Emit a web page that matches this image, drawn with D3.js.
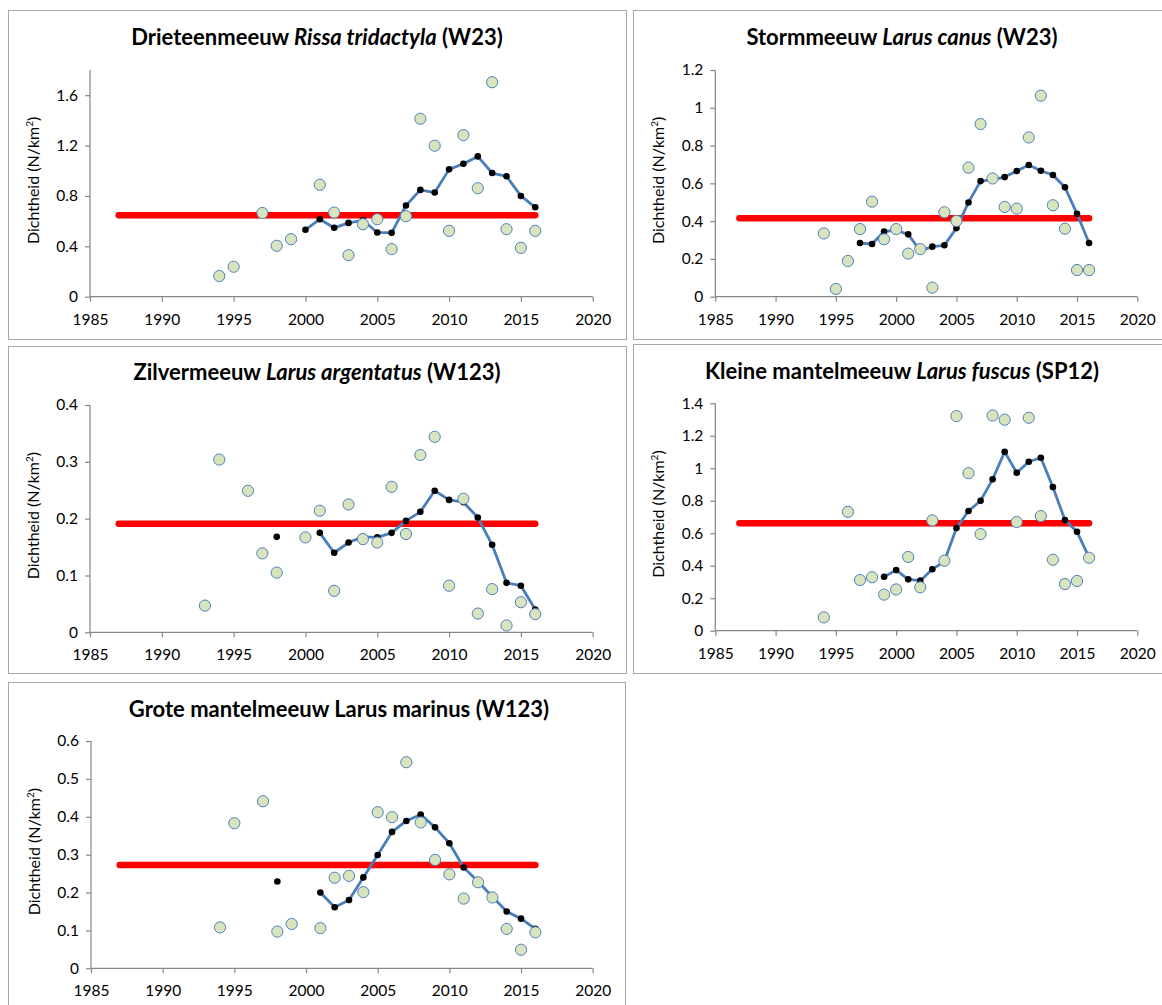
<!DOCTYPE html>
<html>
<head>
<meta charset="utf-8">
<script src="https://cdn.jsdelivr.net/npm/d3@7"></script>
<style>
  html, body { margin: 0; padding: 0; background: #ffffff; }
  svg { display: block; }
  text { font-family: Lato, "Open Sans", "DejaVu Sans", sans-serif; fill: #000; }
</style>
</head>
<body>
<svg id="chart" width="1162" height="1005"></svg>
<script>
// ---------- DATA ----------
const years = [1993,1994,1995,1996,1997,1998,1999,2000,2001,2002,2003,2004,2005,2006,2007,2008,2009,2010,2011,2012,2013,2014,2015,2016];
const meanYears = [1987, 2016];
const xTicks = [1985,1990,1995,2000,2005,2010,2015,2020];

// Drieteenmeeuw Rissa tridactyla (W23)
const drieteenObs   = [null,0.164,0.238,null,0.665,0.404,0.457,null,0.889,0.668,0.330,0.576,0.615,0.378,0.639,1.413,1.199,0.523,1.283,0.861,1.703,0.536,0.388,0.523];
const drieteenTrend = [null,null,null,null,null,null,null,0.531,0.615,0.547,0.586,0.607,0.510,0.507,0.724,0.848,0.827,1.011,1.056,1.114,0.982,0.956,0.800,0.710];
const drieteenMean  = 0.647;
const drieteenTicks = [0,0.4,0.8,1.2,1.6];

// Stormmeeuw Larus canus (W23)
const stormObs   = [null,0.335,0.041,0.189,0.358,0.503,0.304,0.358,0.228,0.252,0.048,0.447,0.401,0.683,0.914,0.626,0.475,0.466,0.843,1.064,0.484,0.360,0.141,0.141];
const stormTrend = [null,null,null,null,0.284,0.279,0.345,0.352,0.330,0.243,0.265,0.272,0.363,0.499,0.612,0.620,0.633,0.665,0.697,0.667,0.644,0.579,0.439,0.284];
const stormMean  = 0.415;
const stormTicks = [0,0.2,0.4,0.6,0.8,1,1.2];

// Zilvermeeuw Larus argentatus (W123)
const zilverObs   = [0.047,0.304,null,0.249,0.139,0.105,null,0.167,0.214,0.073,0.225,0.164,0.158,0.256,0.173,0.312,0.344,0.082,0.235,0.033,0.076,0.012,0.053,0.032];
const zilverTrend = [null,null,null,null,null,0.168,null,null,0.175,0.140,0.158,0.168,0.167,0.175,0.196,0.212,0.249,0.233,0.229,0.202,0.154,0.087,0.082,0.040];
const zilverMean  = 0.191;
const zilverTicks = [0,0.1,0.2,0.3,0.4];

// Kleine mantelmeeuw Larus fuscus (SP12)
const kleineObs   = [null,0.082,null,0.732,0.312,0.329,0.222,0.254,0.454,0.267,0.679,0.431,1.321,0.970,0.595,1.325,1.299,0.669,1.311,0.706,0.437,0.287,0.306,0.449];
const kleineTrend = [null,null,null,null,null,null,0.332,0.373,0.316,0.308,0.378,0.427,0.632,0.737,0.800,0.932,1.102,0.972,1.040,1.065,0.884,0.681,0.609,0.452];
const kleineMean  = 0.661;
const kleineTicks = [0,0.2,0.4,0.6,0.8,1,1.2,1.4];

// Grote mantelmeeuw Larus marinus (W123)
const groteObs   = [null,0.108,0.383,null,0.441,0.097,0.117,null,0.106,0.239,0.244,0.201,0.412,0.399,0.544,0.385,0.286,0.248,0.184,0.227,0.187,0.104,0.049,0.095];
const groteTrend = [null,null,null,null,null,0.229,null,null,0.200,0.161,0.180,0.240,0.299,0.360,0.389,0.406,0.372,0.330,0.266,0.229,0.189,0.150,0.131,0.104];
const groteMean  = 0.273;
const groteTicks = [0,0.1,0.2,0.3,0.4,0.5,0.6];

// ---------- PANELS (layout) ----------
const panels = [
  { title: [["Drieteenmeeuw ", false], ["Rissa tridactyla", true], [" (W23)", false]],
    obs: drieteenObs, trend: drieteenTrend, mean: drieteenMean, ticks: drieteenTicks, yMax: 1.8,
    box: [8, 10, 618, 329], plot: [90, 592.7, 70, 296.7], titlePos: [317, 45] },
  { title: [["Stormmeeuw ", false], ["Larus canus", true], [" (W23)", false]],
    obs: stormObs, trend: stormTrend, mean: stormMean, ticks: stormTicks, yMax: 1.2,
    box: [633, 10, 540, 329], plot: [715.3, 1137.3, 70, 296.7], titlePos: [902, 45] },
  { title: [["Zilvermeeuw ", false], ["Larus argentatus", true], [" (W123)", false]],
    obs: zilverObs, trend: zilverTrend, mean: zilverMean, ticks: zilverTicks, yMax: 0.4,
    box: [8, 346, 618, 327], plot: [90, 592.7, 405, 632.3], titlePos: [317, 380] },
  { title: [["Kleine mantelmeeuw ", false], ["Larus fuscus", true], [" (SP12)", false]],
    obs: kleineObs, trend: kleineTrend, mean: kleineMean, ticks: kleineTicks, yMax: 1.4,
    box: [633, 344, 540, 329], plot: [715.3, 1137.3, 403.3, 630.7], titlePos: [902, 379] },
  { title: [["Grote mantelmeeuw Larus marinus (W123)", false]],
    obs: groteObs, trend: groteTrend, mean: groteMean, ticks: groteTicks, yMax: 0.6,
    box: [8, 682, 617, 340], plot: [91, 592.7, 741, 968.3], titlePos: [339, 717] }
];

const svg = d3.select("#chart");
const axisColor = "#868686";
const fmt = v => (v === 0 ? "0" : String(+v.toFixed(2)));

panels.forEach(p => {
  const [bx, by, bw, bh] = p.box;
  const [pl, pr, pt, pb] = p.plot;
  const g = svg.append("g");

  // panel frame
  g.append("rect").attr("x", bx + 0.5).attr("y", by + 0.5).attr("width", bw).attr("height", bh)
    .attr("fill", "#fff").attr("stroke", "#a6a6a6").attr("stroke-width", 1);

  const x = d3.scaleLinear().domain([1985, 2020]).range([pl, pr]);
  const y = d3.scaleLinear().domain([0, p.yMax]).range([pb, pt]);

  // title
  const t = g.append("text").attr("x", p.titlePos[0]).attr("y", p.titlePos[1])
    .attr("text-anchor", "middle").attr("font-size", 22).attr("font-weight", "bold");
  p.title.forEach(([s, it]) => t.append("tspan").text(s).attr("font-style", it ? "italic" : "normal"));

  // axes
  const yAxis = d3.axisLeft(y).tickValues(p.ticks).tickSize(5).tickPadding(7).tickFormat(fmt);
  const gy = g.append("g").attr("transform", `translate(${pl},0)`).call(yAxis);
  const xAxis = d3.axisBottom(x).tickValues(xTicks).tickSize(5).tickPadding(12).tickFormat(d3.format("d"));
  const gx = g.append("g").attr("transform", `translate(0,${pb})`).call(xAxis);
  [gx, gy].forEach(a => {
    a.select(".domain").attr("stroke", axisColor).attr("stroke-width", 1.2);
    a.selectAll(".tick line").attr("stroke", axisColor).attr("stroke-width", 1.2);
    a.selectAll(".tick text").attr("font-size", 15.5).attr("fill", "#000")
      .style("font-family", "Lato, 'Open Sans', sans-serif");
  });
  gy.select(".domain").attr("d", `M0,${y(p.yMax)}V${pb}`);
  gx.select(".domain").attr("d", `M${pl},0H${pr}`);

  // y axis label
  const yl = g.append("text")
    .attr("transform", `translate(${pl - 51},${(pt + pb) / 2 - 3}) rotate(-90)`)
    .attr("text-anchor", "middle").attr("font-size", 16);
  yl.append("tspan").text("Dichtheid (N/km");
  yl.append("tspan").text("2").attr("font-size", 10).attr("dy", -6);
  yl.append("tspan").text(")").attr("dy", 6);

  // mean line (red)
  g.append("path")
    .datum(meanYears.map(yr => [yr, p.mean]))
    .attr("d", d3.line().x(d => x(d[0])).y(d => y(d[1])))
    .attr("stroke", "#ff0000").attr("stroke-width", 6.5).attr("stroke-linecap", "round").attr("fill", "none");

  // trend line (blue) + black dots
  const trendPts = years.map((yr, i) => [yr, p.trend[i]]);
  g.append("path")
    .datum(trendPts)
    .attr("d", d3.line().defined(d => d[1] !== null).x(d => x(d[0])).y(d => y(d[1])))
    .attr("stroke", "#4a7ebb").attr("stroke-width", 2.8).attr("fill", "none").attr("stroke-linejoin", "round");
  g.selectAll(".tdot").data(trendPts.filter(d => d[1] !== null)).join("circle")
    .attr("cx", d => x(d[0])).attr("cy", d => y(d[1])).attr("r", 3.3).attr("fill", "#000");

  // observed (green circles)
  const obsPts = years.map((yr, i) => [yr, p.obs[i]]).filter(d => d[1] !== null);
  g.selectAll(".odot").data(obsPts).join("circle")
    .attr("cx", d => x(d[0])).attr("cy", d => y(d[1])).attr("r", 5.6)
    .attr("fill", "#d7e4bd").attr("stroke", "#4f81bd").attr("stroke-width", 1);
});
</script>
</body>
</html>
